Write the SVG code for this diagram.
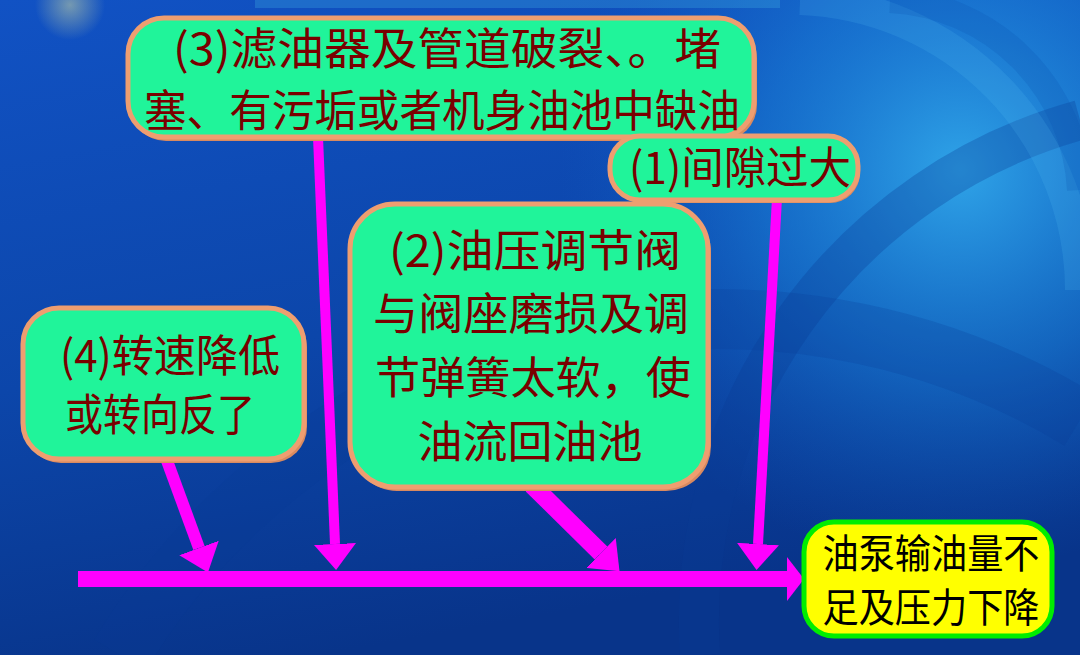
<svg xmlns="http://www.w3.org/2000/svg" width="1080" height="655" viewBox="0 0 1080 655">
<defs>
<linearGradient id="bg" x1="0" y1="0" x2="0.3" y2="1">
<stop offset="0" stop-color="#1152C4"/>
<stop offset="0.55" stop-color="#0C46AA"/>
<stop offset="1" stop-color="#08348A"/>
</linearGradient>
<radialGradient id="glow" cx="960" cy="170" r="400" gradientUnits="userSpaceOnUse">
<stop offset="0" stop-color="#33AEEE" stop-opacity="0.9"/>
<stop offset="0.5" stop-color="#1C8BE0" stop-opacity="0.5"/>
<stop offset="1" stop-color="#1060C8" stop-opacity="0"/>
</radialGradient>
<radialGradient id="spot" cx="70" cy="5" r="35" gradientUnits="userSpaceOnUse">
<stop offset="0" stop-color="#D8E0A0" stop-opacity="0.5"/>
<stop offset="1" stop-color="#D8E0A0" stop-opacity="0"/>
</radialGradient>
<marker id="head" markerUnits="userSpaceOnUse" markerWidth="26" markerHeight="42" refX="0" refY="21" orient="auto" viewBox="0 0 26 42">
<path d="M0,0 L26,21 L0,42 Z" fill="#FF00FF"/>
</marker>
<marker id="headMain" markerUnits="userSpaceOnUse" markerWidth="17" markerHeight="44" refX="0" refY="22" orient="auto" viewBox="0 0 17 44">
<path d="M0,0 L17,22 L0,44 Z" fill="#FF00FF"/>
</marker>
<style>
.cause rect.b{fill:#20F49A;stroke:#EE9E70;stroke-width:5}
.cause rect.s{fill:#D98A60}
.cause text{font-family:"Noto Sans CJK SC","Noto Sans CJK JP",sans-serif;font-size:44px;fill:#7A0000;text-anchor:middle}
#result rect.b{fill:#FFFF00;stroke:#00EE00;stroke-width:5}
#result text{font-family:"Noto Sans CJK SC","Noto Sans CJK JP",sans-serif;font-size:40px;fill:#000000;text-anchor:middle}
.arr{stroke:#FF00FF;fill:none;marker-end:url(#head)}
</style>
</defs>
<rect x="0" y="0" width="1080" height="655" fill="url(#bg)"/>
<rect x="0" y="0" width="1080" height="655" fill="url(#glow)"/>
<g fill="none">
<path d="M700,655 A520,520 0 0 1 1080,120" stroke="#0A3C96" stroke-width="40" opacity="0.3"/>
<path d="M800,0 A290,290 0 0 1 1080,290" stroke="#5EC8F5" stroke-width="30" opacity="0.15"/>
<path d="M890,0 A200,200 0 0 1 1080,190" stroke="#0B50B0" stroke-width="26" opacity="0.2"/>
<path d="M120,655 A700,700 0 0 1 1080,420" stroke="#0A3C96" stroke-width="60" opacity="0.22"/>
</g>
<rect x="0" y="0" width="160" height="60" fill="url(#spot)"/>
<rect x="255" y="0" width="525" height="8" fill="#3FB0E0" opacity="0.3"/>

<g id="connectors">
<line class="arr" x1="166" y1="458" x2="199" y2="548" stroke-width="12"/>
<line class="arr" x1="318" y1="137" x2="335" y2="544" stroke-width="10"/>
<line class="arr" x1="532" y1="485" x2="601" y2="553" stroke-width="18"/>
<line class="arr" x1="777" y1="198" x2="758" y2="544" stroke-width="10"/>
<line x1="78" y1="579" x2="787" y2="579" stroke="#FF00FF" stroke-width="16" marker-end="url(#headMain)"/>
</g>

<g id="cause3" class="cause">
<rect class="s" x="130" y="22" width="627" height="119" rx="36"/>
<rect class="b" x="128" y="18" width="626" height="119" rx="36"/>
<text x="447" y="65" textLength="548" lengthAdjust="spacingAndGlyphs">(3)滤油器及管道破裂、。堵</text>
<text x="442" y="127" textLength="596" lengthAdjust="spacingAndGlyphs">塞、有污垢或者机身油池中缺油</text>
</g>

<g id="cause1" class="cause">
<rect class="s" x="612" y="139" width="248" height="64" rx="30"/>
<rect class="b" x="610" y="136" width="248" height="64" rx="30"/>
<text x="740" y="184" textLength="222" lengthAdjust="spacingAndGlyphs">(1)间隙过大</text>
</g>

<g id="cause2" class="cause">
<rect class="s" x="352" y="207" width="359" height="284" rx="45"/>
<rect class="b" x="350" y="204" width="358" height="283" rx="45"/>
<text x="535" y="267" textLength="292" lengthAdjust="spacingAndGlyphs">(2)油压调节阀</text>
<text x="531" y="330" textLength="316" lengthAdjust="spacingAndGlyphs">与阀座磨损及调</text>
<text x="533" y="394" textLength="316" lengthAdjust="spacingAndGlyphs">节弹簧太软，使</text>
<text x="530" y="458" textLength="225" lengthAdjust="spacingAndGlyphs">油流回油池</text>
</g>

<g id="cause4" class="cause">
<rect class="s" x="25" y="311" width="282" height="152" rx="36"/>
<rect class="b" x="23" y="308" width="281" height="151" rx="36"/>
<text x="170" y="372" textLength="220" lengthAdjust="spacingAndGlyphs">(4)转速降低</text>
<text x="160" y="431" textLength="190" lengthAdjust="spacingAndGlyphs">或转向反了</text>
</g>

<g id="result">
<rect class="b" x="804" y="522" width="248" height="114" rx="30"/>
<text x="931" y="568" textLength="217" lengthAdjust="spacingAndGlyphs">油泵输油量不</text>
<text x="931" y="622" textLength="217" lengthAdjust="spacingAndGlyphs">足及压力下降</text>
</g>
</svg>
